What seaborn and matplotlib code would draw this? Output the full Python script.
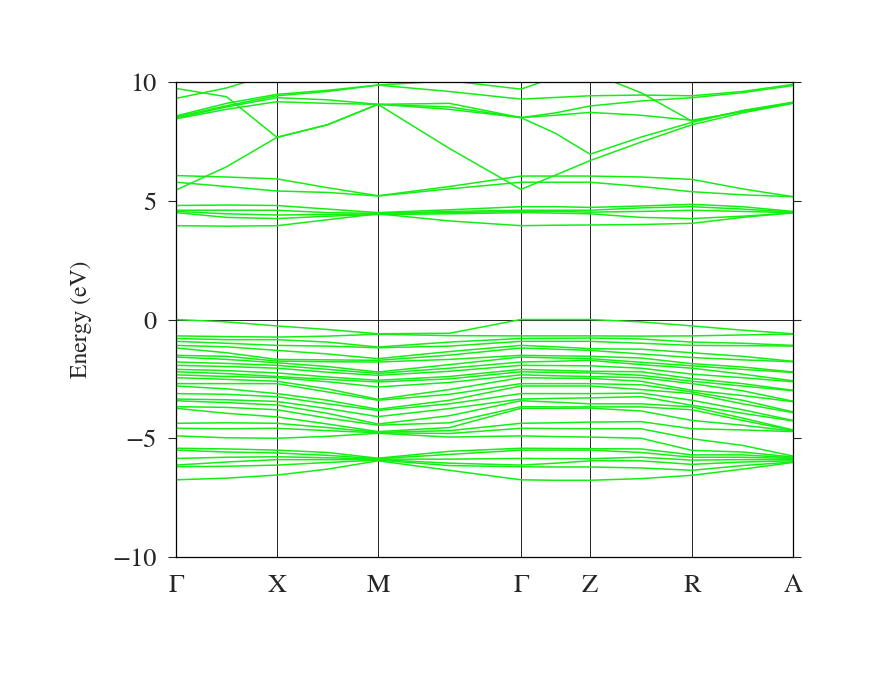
import numpy as np
import pandas as pd
import matplotlib
matplotlib.use("Agg")
import matplotlib.pyplot as plt
import seaborn as sns

# k-path: high-symmetry labels and cumulative path positions (with midpoints)
kpoint_labels = ["Γ", "X", "M", "Γ", "Z", "R", "A"]
kpoint_pos = [0.0, 1.01, 2.02, 3.45, 4.14, 5.16, 6.17]
k_samples = [0.0, 0.505, 1.01, 1.515, 2.02, 2.735, 3.45, 3.795, 4.14, 4.65, 5.16, 5.665, 6.17]

# conduction bands (eV) at k_samples
c1 = [3.95, 3.93, 3.95, 4.20, 4.45, 4.15, 3.95, 3.97, 3.98, 4.00, 4.05, 4.30, 4.50]
c2 = [4.50, 4.30, 4.25, 4.35, 4.42, 4.45, 4.50, 4.48, 4.45, 4.30, 4.25, 4.35, 4.48]
c3 = [4.55, 4.45, 4.40, 4.42, 4.45, 4.50, 4.55, 4.55, 4.52, 4.55, 4.60, 4.55, 4.50]
c4 = [4.60, 4.60, 4.60, 4.50, 4.47, 4.55, 4.60, 4.60, 4.60, 4.70, 4.75, 4.65, 4.52]
c5 = [4.80, 4.82, 4.80, 4.65, 4.50, 4.62, 4.75, 4.75, 4.72, 4.78, 4.85, 4.75, 4.55]
c6 = [5.78, 5.60, 5.41, 5.35, 5.20, 5.50, 5.78, 5.78, 5.78, 5.60, 5.38, 5.25, 5.17]
c7 = [6.06, 6.00, 5.92, 5.55, 5.21, 5.60, 6.04, 6.04, 6.04, 6.00, 5.90, 5.50, 5.17]
c8 = [5.45, 6.43, 7.67, 8.20, 9.06, 7.20, 5.48, 6.08, 6.69, 7.47, 8.20, 8.70, 9.10]
c9 = [9.73, 9.38, 7.67, 8.20, 9.06, 9.10, 8.50, 7.84, 6.96, 7.68, 8.30, 8.80, 9.15]
c10 = [8.45, 8.85, 9.17, 9.10, 9.06, 8.95, 8.50, 8.70, 8.99, 9.20, 9.34, 9.55, 9.85]
c11 = [8.48, 8.95, 9.34, 9.25, 9.06, 8.85, 8.50, 8.60, 8.72, 8.60, 8.39, 8.75, 9.12]
c12 = [8.53, 9.00, 9.42, 9.60, 9.87, 9.60, 9.28, 9.35, 9.42, 9.45, 9.42, 9.60, 9.90]
c13 = [8.57, 9.10, 9.48, 9.65, 9.87, 10.05, 9.70, 10.20, 10.60, 10.40, 10.30, 10.30, 10.40]
c14 = [9.31, 9.75, 10.40, 10.60, 10.60, 10.60, 10.60, 10.60, 10.40, 9.55, 8.35, 8.78, 9.13]
conduction = [c1, c2, c3, c4, c5, c6, c7, c8, c9, c10, c11, c12, c13, c14]

# valence band energies (eV), sorted, at each k sample
v_G1 = [0.00, -0.69, -0.80, -0.92, -1.09, -1.20, -1.51, -1.58, -1.79, -1.93, -2.10, -2.20, -2.33, -2.45, -2.70,
        -2.80, -3.12, -3.35, -3.42, -3.67, -3.74, -4.37, -4.58, -4.90, -5.42, -5.50, -5.85, -6.13, -6.20, -6.75]
v_m1 = [-0.10, -0.72, -0.85, -1.00, -1.15, -1.40, -1.55, -1.68, -1.85, -1.98, -2.15, -2.28, -2.40, -2.52, -2.70,
        -2.92, -3.15, -3.38, -3.50, -3.70, -3.95, -4.35, -4.60, -4.98, -5.45, -5.58, -5.80, -6.00, -6.18, -6.68]
v_X = [-0.27, -0.74, -0.85, -1.09, -1.30, -1.68, -1.75, -1.82, -1.93, -2.05, -2.25, -2.40, -2.45, -2.60, -2.70,
       -3.12, -3.25, -3.45, -3.60, -3.80, -4.10, -4.37, -4.58, -5.00, -5.50, -5.62, -5.78, -5.90, -6.13, -6.55]
v_m2 = [-0.42, -0.70, -0.95, -1.12, -1.45, -1.70, -1.78, -1.98, -2.10, -2.22, -2.42, -2.52, -2.62, -2.92, -3.05,
        -3.40, -3.55, -3.75, -3.95, -4.15, -4.40, -4.55, -4.68, -4.92, -5.60, -5.72, -5.82, -5.90, -6.02, -6.30]
v_M = [-0.60, -0.62, -1.16, -1.19, -1.65, -1.72, -1.79, -2.21, -2.27, -2.35, -2.56, -2.63, -2.84, -3.36, -3.40,
       -3.78, -3.83, -4.09, -4.40, -4.45, -4.72, -4.75, -4.77, -4.79, -5.84, -5.86, -5.88, -5.90, -5.92, -5.95]
v_m3 = [-0.58, -0.68, -0.95, -1.12, -1.35, -1.50, -1.68, -1.90, -2.05, -2.18, -2.40, -2.50, -2.65, -2.95, -3.15,
        -3.40, -3.55, -3.75, -4.05, -4.35, -4.55, -4.68, -4.80, -4.95, -5.55, -5.68, -5.88, -6.05, -6.15, -6.35]
v_G2 = [0.00, -0.69, -0.80, -0.92, -1.09, -1.20, -1.51, -1.58, -1.79, -1.93, -2.10, -2.20, -2.33, -2.45, -2.70,
        -2.80, -3.12, -3.35, -3.42, -3.67, -3.74, -4.37, -4.58, -4.90, -5.42, -5.50, -5.85, -6.13, -6.20, -6.75]
v_m4 = [0.00, -0.69, -0.79, -0.92, -1.15, -1.25, -1.53, -1.62, -1.76, -1.94, -2.14, -2.23, -2.37, -2.47, -2.70,
        -2.80, -3.12, -3.32, -3.48, -3.68, -3.74, -4.35, -4.59, -4.93, -5.43, -5.50, -5.86, -6.05, -6.21, -6.77]
v_Z = [0.00, -0.69, -0.78, -0.92, -1.23, -1.30, -1.55, -1.65, -1.72, -1.95, -2.18, -2.25, -2.40, -2.48, -2.70,
       -2.80, -3.12, -3.30, -3.55, -3.68, -3.73, -4.32, -4.60, -4.95, -5.44, -5.50, -5.86, -5.95, -6.21, -6.77]
v_m5 = [-0.10, -0.70, -0.82, -1.00, -1.25, -1.45, -1.62, -1.80, -1.90, -2.05, -2.20, -2.35, -2.45, -2.60, -2.75,
        -2.95, -3.10, -3.25, -3.55, -3.68, -3.85, -4.30, -4.60, -5.00, -5.45, -5.60, -5.80, -5.95, -6.25, -6.70]
v_R = [-0.27, -0.69, -0.95, -1.09, -1.40, -1.60, -1.86, -1.95, -2.05, -2.30, -2.49, -2.60, -2.70, -2.98, -3.05,
       -3.12, -3.40, -3.61, -3.68, -3.80, -4.25, -4.60, -5.02, -5.51, -5.70, -5.80, -5.92, -6.10, -6.35, -6.56]
v_m6 = [-0.45, -0.65, -1.00, -1.10, -1.55, -1.70, -2.00, -2.10, -2.30, -2.45, -2.70, -2.80, -3.00, -3.20, -3.40,
        -3.55, -3.80, -3.95, -4.15, -4.25, -4.45, -4.65, -5.30, -5.58, -5.70, -5.80, -5.90, -6.00, -6.15, -6.30]
v_A = [-0.60, -0.62, -1.09, -1.12, -1.76, -1.78, -2.21, -2.23, -2.58, -2.62, -2.98, -3.00, -3.44, -3.46, -3.89,
       -3.92, -4.25, -4.27, -4.65, -4.67, -4.70, -4.72, -5.75, -5.79, -5.82, -5.85, -5.90, -5.95, -6.00, -6.02]
valence_columns = [v_G1, v_m1, v_X, v_m2, v_M, v_m3, v_G2, v_m4, v_Z, v_m5, v_R, v_m6, v_A]

# ---- build long-form table ----
rows = []
for bi, band in enumerate(conduction):
    for k, e in zip(k_samples, band):
        rows.append({"k": k, "E": e, "band": f"c{bi}"})
n_val = len(v_G1)
for bi in range(n_val):
    for k, col in zip(k_samples, valence_columns):
        rows.append({"k": k, "E": col[bi], "band": f"v{bi}"})
df = pd.DataFrame(rows)

sns.set_style("ticks")
# Times-like serif bundled with matplotlib
plt.rcParams["font.family"] = ["STIXGeneral", "DejaVu Serif"]

fig = plt.figure(figsize=(8.72, 6.74), dpi=100)
ax = fig.add_axes([176 / 872, 1 - 557 / 674, 617 / 872, 475 / 674])

green = "#14ee14"
nb = df["band"].nunique()
sns.lineplot(data=df, x="k", y="E", hue="band", palette=[green] * nb, legend=False,
             estimator=None, sort=False, linewidth=1.1, ax=ax)

for p in kpoint_pos[1:-1]:
    ax.axvline(p, color="black", linewidth=0.6, zorder=0)
ax.axhline(0, color="black", linewidth=0.6, zorder=0)

ax.set_xlim(kpoint_pos[0], kpoint_pos[-1])
ax.set_ylim(-10, 10)
ax.set_xticks(kpoint_pos)
ax.set_xticklabels(kpoint_labels, fontsize=19)
ax.set_yticks([-10, -5, 0, 5, 10])
ax.set_yticklabels(["\u221210", "\u22125", "0", "5", "10"], fontsize=19)
ax.tick_params(axis="x", length=0, pad=12)
ax.tick_params(axis="y", direction="out", length=6, width=0.8, right=True, pad=8)
ax.set_xlabel("")
ax.set_ylabel("Energy (eV)", fontsize=17)
ax.yaxis.set_label_coords(-0.136, 0.50)
for s in ax.spines.values():
    s.set_visible(True)
    s.set_linewidth(0.9)
    s.set_color("black")

fig.savefig("out.png", dpi=100)
